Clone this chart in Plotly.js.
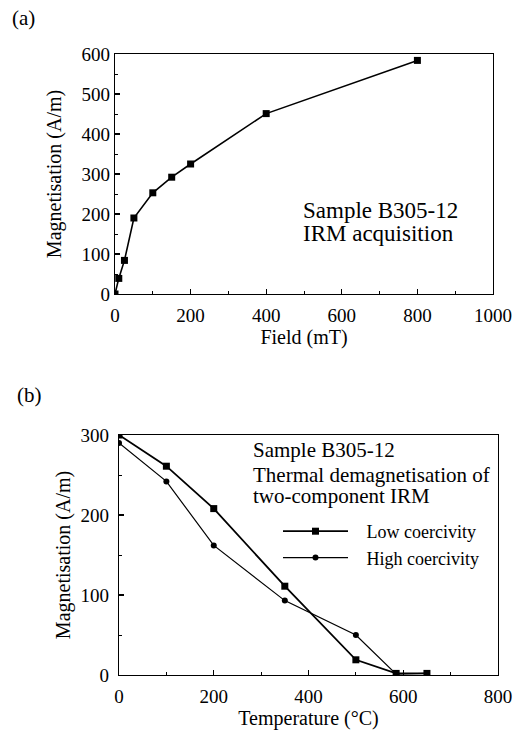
<!DOCTYPE html>
<html>
<head>
<meta charset="utf-8">
<script src="https://cdn.plot.ly/plotly-3.0.1.min.js"></script>
<style>html,body{margin:0;padding:0;background:#fff;}#chart{width:514px;height:730px;}</style>
</head>
<body>
<div id="chart"></div>
<script>
// Panel (a): IRM acquisition
const fieldMT = [0, 10, 25, 50, 100, 150, 200, 400, 800];
const irmMag = [0, 39, 84, 190, 253, 292, 325, 451, 584];

// Panel (b): thermal demagnetisation of two-component IRM
const tempC = [0, 100, 200, 350, 500, 585, 650];
const lowCoercivity = [300, 261, 208, 111, 19, 2, 2];
const highCoercivity = [290, 242, 162, 93, 50, 1, 2];

const FONT = 'Liberation Serif';
const PAD = '\u00a0\u00a0\u00a0';

const traces = [
  {x: fieldMT, y: irmMag, xaxis: 'x', yaxis: 'y', mode: 'lines+markers', showlegend: false,
   line: {color: '#000', width: 1.6}, marker: {symbol: 'square', size: 7, color: '#000'}},
  {x: tempC, y: lowCoercivity, xaxis: 'x2', yaxis: 'y2', mode: 'lines+markers', name: PAD + 'Low coercivity',
   line: {color: '#000', width: 1.8}, marker: {symbol: 'square', size: 7, color: '#000'}},
  {x: tempC, y: highCoercivity, xaxis: 'x2', yaxis: 'y2', mode: 'lines+markers', name: PAD + 'High coercivity',
   line: {color: '#000', width: 1.2}, marker: {symbol: 'circle', size: 6, color: '#000'}}
];

function ax(extra) {
  return Object.assign({
    showline: true, linecolor: '#000', linewidth: 1.3, mirror: true,
    showgrid: false, zeroline: false,
    ticks: 'inside', ticklen: 5, tickwidth: 1.2, tickcolor: '#000',
    tickfont: {family: FONT, size: 19, color: '#000'}
  }, extra);
}
const minorX = {ticks: 'inside', ticklen: 3, tickwidth: 1, tickcolor: '#000', dtick: 100};
const minorY = {ticks: 'inside', ticklen: 3, tickwidth: 1, tickcolor: '#000', dtick: 50};

function txt(text, x, y, size) {
  return {xref: 'paper', yref: 'paper', x: x/514, y: 1 - y/730, xanchor: 'left', yanchor: 'middle',
          showarrow: false, align: 'left', text: text, font: {family: FONT, size: size, color: '#000'}};
}

const layout = {
  width: 514, height: 730,
  margin: {l: 0, r: 0, t: 0, b: 0},
  paper_bgcolor: '#fff', plot_bgcolor: '#fff',
  font: {family: FONT, color: '#000'},
  xaxis: ax({domain: [115/514, 493/514], anchor: 'y', range: [0, 1000], tickvals: [0,200,400,600,800,1000],
    minor: minorX, ticklabelstandoff: 4,
    title: {text: 'Field (mT)', font: {family: FONT, size: 20}, standoff: 2}}),
  yaxis: ax({domain: [1-294/730, 1-54/730], anchor: 'x', range: [0, 600], tickvals: [0,100,200,300,400,500,600],
    minor: minorY,
    title: {text: 'Magnetisation (A/m)', font: {family: FONT, size: 20}, standoff: 14}}),
  xaxis2: ax({domain: [119/514, 498/514], anchor: 'y2', range: [0, 800], tickvals: [0,200,400,600,800],
    minor: minorX, ticklabelstandoff: 4,
    title: {text: 'Temperature (°C)', font: {family: FONT, size: 20}, standoff: 0}}),
  yaxis2: ax({domain: [1-675/730, 1-435/730], anchor: 'x2', range: [0, 300], tickvals: [0,100,200,300],
    minor: minorY, ticklabelstandoff: 5,
    title: {text: 'Magnetisation (A/m)', font: {family: FONT, size: 20}, standoff: 4}}),
  showlegend: true,
  legend: {x: 278/514, y: 1-513/730, xanchor: 'left', yanchor: 'top', bgcolor: 'rgba(0,0,0,0)',
    font: {family: FONT, size: 18, color: '#000'}, itemwidth: 65, tracegroupgap: 0},
  annotations: [
    txt('(a)', 10, 18, 21),
    txt('(b)', 15, 395, 21),
    txt('Sample B305-12', 301, 210, 23),
    txt('IRM acquisition', 301, 233, 23),
    txt('Sample B305-12', 251, 450, 21),
    txt('Thermal demagnetisation of', 251, 475, 21),
    txt('two-component IRM', 251, 496, 21)
  ]
};

Plotly.newPlot('chart', traces, layout, {displayModeBar: false, staticPlot: true});
</script>
</body>
</html>
